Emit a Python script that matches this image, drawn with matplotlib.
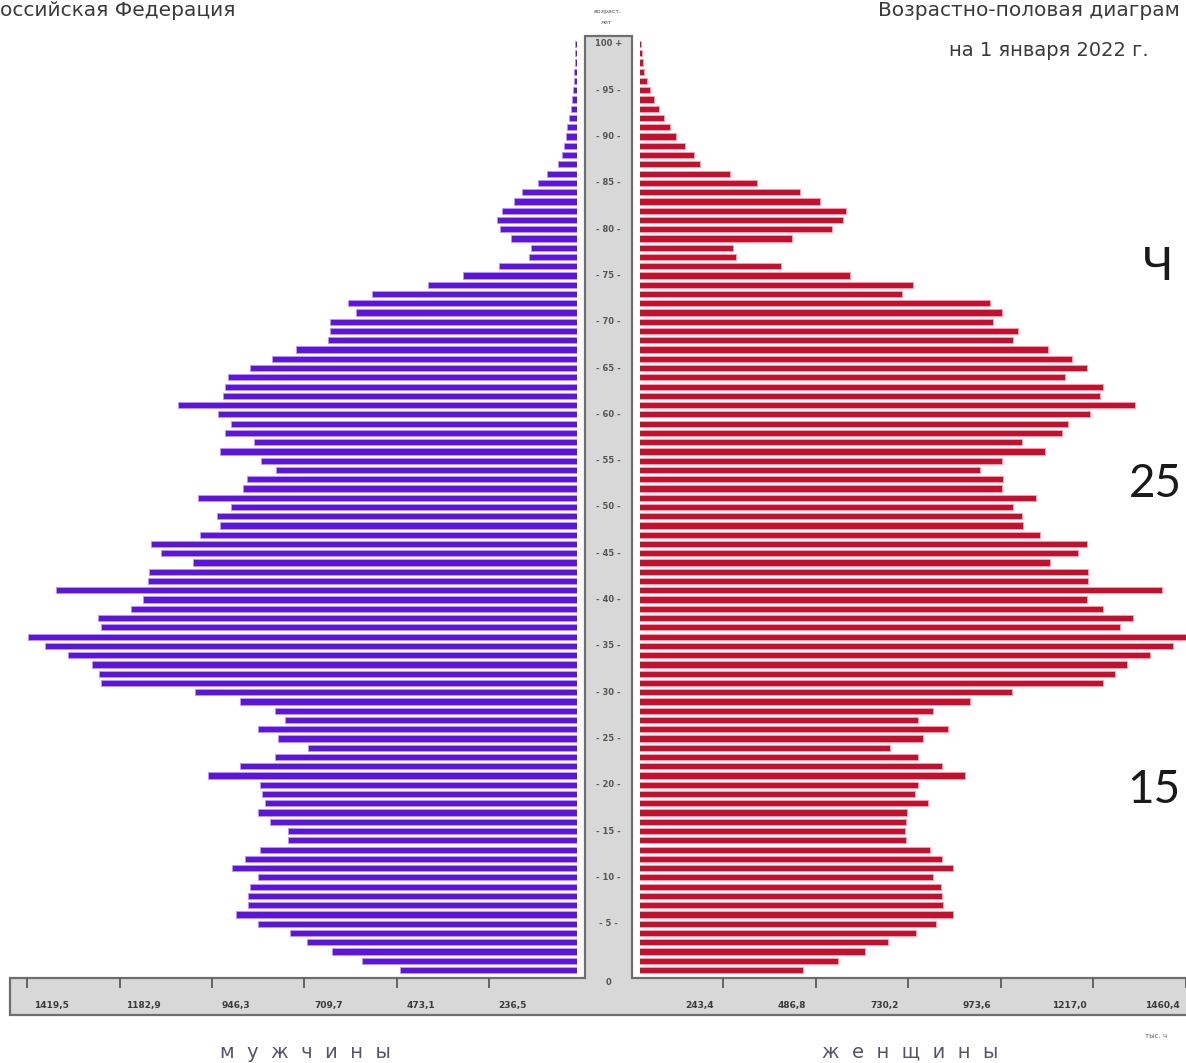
import matplotlib
matplotlib.use("Agg")
import matplotlib.pyplot as plt
from matplotlib.patches import Polygon
import matplotlib.transforms as mtransforms

# ---------------- data (thousands of persons) ----------------
ages = list(range(0, 101))
male = [464, 562, 639, 703, 746, 828, 885, 854, 854, 849,
        828, 895, 862, 823, 751, 751, 798, 828, 810, 818,
        823, 957, 875, 785, 700, 777, 828, 759, 785, 875,
        990, 1231, 1236, 1254, 1316, 1375, 1418, 1231, 1239, 1154,
        1123, 1346, 1110, 1108, 995, 1077, 1103, 977, 926, 933,
        898, 982, 867, 857, 782, 821, 926, 839, 913, 898,
        931, 1033, 918, 913, 905, 849, 792, 731, 649, 644,
        644, 577, 598, 536, 392, 303, 210, 133, 128, 180,
        208, 215, 203, 172, 151, 110, 87, 59, 49, 44,
        38, 36, 31, 26, 23, 21, 18, 18, 15, 15,
        15]
female = [453, 545, 616, 676, 750, 803, 847, 821, 818, 816,
          795, 847, 818, 787, 724, 721, 724, 726, 782, 747,
          755, 879, 818, 755, 682, 768, 834, 755, 795, 892,
          1003, 1242, 1274, 1305, 1366, 1426, 1460, 1287, 1321, 1242,
          1200, 1397, 1203, 1203, 1103, 1176, 1200, 1076, 1032, 1029,
          1005, 1066, 976, 979, 918, 976, 1089, 1029, 1134, 1150,
          1208, 1326, 1234, 1242, 1142, 1200, 1160, 1097, 1005, 1018,
          953, 976, 945, 713, 742, 576, 395, 276, 268, 424,
          529, 558, 566, 497, 445, 332, 261, 182, 166, 142,
          118, 103, 87, 74, 61, 50, 42, 34, 32, 29,
          26]
male_ticks = [236.5, 473.1, 709.7, 946.3, 1182.9, 1419.5]
male_tick_labels = ["236,5", "473,1", "709,7", "946,3", "1182,9", "1419,5"]
female_ticks = [243.4, 486.8, 730.2, 973.6, 1217.0, 1460.4]
female_tick_labels = ["243,4", "486,8", "730,2", "973,6", "1217,0", "1460,4"]
age_label_pos = [0] + list(range(5, 100, 5)) + [100]
age_label_txt = ["0"] + ["- %d -" % a for a in range(5, 100, 5)] + ["100 +"]

# ---------------- layout ----------------
W, H = 1186, 1063
fig = plt.figure(figsize=(W / 100, H / 100), dpi=100)
fig.patch.set_facecolor("white")


def rect(x0, y0, x1, y1):
    return [x0 / W, 1 - y1 / H, (x1 - x0) / W, (y1 - y0) / H]


def fx(x):
    return x / W


def fy(y):
    return 1 - y / H


Y0, Y1 = -0.9, 100.6
TOP_PX, BOT_PX = 38.44, 978.33

# gray frame (inverted T: age column + value strip)
frame = Polygon([(fx(10), fy(978)), (fx(585), fy(978)), (fx(585), fy(36)),
                 (fx(632), fy(36)), (fx(632), fy(978)), (fx(1190), fy(978)),
                 (fx(1190), fy(1015)), (fx(10), fy(1015))],
                closed=True, transform=fig.transFigure, facecolor="#d8d8d8",
                edgecolor="#6e6e6e", linewidth=1.6, zorder=-2)
fig.add_artist(frame)

MALE_C, MALE_E = "#5f14dc", "#b59af2"
FEM_C, FEM_E = "#c4102f", "#f2a0ae"

# male side
ax_m = fig.add_axes(rect(12, TOP_PX, 577, BOT_PX))
ax_m.barh(ages, male, height=0.67, color=MALE_C, edgecolor=MALE_E, linewidth=0.7)
ax_m.set_xlim(1459.2, 10.3)
ax_m.set_ylim(Y0, Y1)

# female side
ax_f = fig.add_axes(rect(640, TOP_PX, 1186, BOT_PX))
ax_f.barh(ages, female, height=0.67, color=FEM_C, edgecolor=FEM_E, linewidth=0.7)
ax_f.set_xlim(23.7, 1460.4)
ax_f.set_ylim(Y0, Y1)

for ax, ticks, labels, dx in ((ax_m, male_ticks, male_tick_labels, 24),
                              (ax_f, female_ticks, female_tick_labels, -24)):
    ax.set_facecolor("none")
    for s in ax.spines.values():
        s.set_visible(False)
    ax.set_yticks([])
    ax.set_xticks(ticks)
    ax.set_xticklabels(labels, fontsize=6.5, fontweight="bold", color="#3a3a3a")
    ax.tick_params(axis="x", direction="out", length=7, width=1.2, color="#505050", pad=9)
    off = mtransforms.ScaledTranslation(dx / 100, 0, fig.dpi_scale_trans)
    for lab in ax.get_xticklabels():
        lab.set_transform(lab.get_transform() + off)

# age column labels
ax_c = fig.add_axes(rect(585, TOP_PX, 632, BOT_PX))
ax_c.set_xlim(0, 1)
ax_c.set_ylim(Y0, Y1)
ax_c.axis("off")
for a, t in zip(age_label_pos, age_label_txt):
    yy = a if a > 0 else -1.35
    ax_c.text(0.5, yy, t, ha="center", va="center", fontsize=6,
              fontweight="bold", color="#555555", clip_on=False)

# ---------------- texts ----------------
fig.text(fx(0), fy(10), "оссийская Федерация", ha="left", va="center",
         fontsize=14.5, color="#3a3a3a", family="DejaVu Sans")
fig.text(fx(878), fy(10), "Возрастно-половая диаграм", ha="left", va="center",
         fontsize=14.5, color="#3a3a3a", family="DejaVu Sans")
fig.text(fx(1049), fy(50), "на 1 января 2022 г.", ha="center", va="center",
         fontsize=14, color="#3a3a3a", family="DejaVu Sans")
fig.text(fx(607), fy(12), "возраст,", ha="center", va="center", fontsize=4.5, color="#555555")
fig.text(fx(607), fy(22), "лет", ha="center", va="center", fontsize=4.5, color="#555555")

fig.text(fx(305), fy(1052), "м  у  ж  ч  и  н  ы", ha="center", va="center",
         fontsize=14, color="#55556a", family="DejaVu Sans")
fig.text(fx(910), fy(1052), "ж  е  н  щ  и  н  ы", ha="center", va="center",
         fontsize=14, color="#55556a", family="DejaVu Sans")
fig.text(fx(1145), fy(1036), "тыс. ч", ha="left", va="center", fontsize=5, color="#666666")

big = dict(va="center", fontsize=33, color="#1a1a1a",
           family=["Lato", "DejaVu Sans"])
fig.text(fx(1143), fy(267), "Ч", ha="left", **big)
fig.text(fx(1182), fy(484), "25", ha="right", **big)
fig.text(fx(1180), fy(790), "15", ha="right", **big)

fig.savefig("out.png", dpi=100)
